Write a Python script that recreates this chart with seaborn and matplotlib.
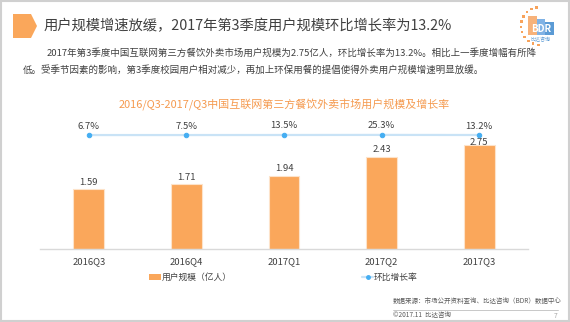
import matplotlib
matplotlib.use("Agg")
import matplotlib.pyplot as plt
import seaborn as sns
import pandas as pd
import numpy as np
from matplotlib.patches import Polygon, Rectangle, Patch
from matplotlib.lines import Line2D

# ---------------- data ----------------
quarters = ["2016Q3", "2016Q4", "2017Q1", "2017Q2", "2017Q3"]
users = [1.59, 1.71, 1.94, 2.43, 2.75]          # 用户规模（亿人）
growth = [6.7, 7.5, 13.5, 25.3, 13.2]           # 环比增长率 (%)
bar_label = "用户规模（亿人）"
line_label = "环比增长率"
main_title = "用户规模增速放缓，2017年第3季度用户规模环比增长率为13.2%"
para1 = "2017年第3季度中国互联网第三方餐饮外卖市场用户规模为2.75亿人，环比增长率为13.2%。相比上一季度增幅有所降"
para2 = "低。受季节因素的影响，第3季度校园用户相对减少，再加上环保用餐的提倡使得外卖用户规模增速明显放缓。"
chart_title = "2016/Q3-2017/Q3中国互联网第三方餐饮外卖市场用户规模及增长率"
source_text = "数据来源：市场公开资料查询、比达咨询（BDR）数据中心"
copyright_text = "©2017.11  比达咨询"
page_no = "7"

df = pd.DataFrame({"quarter": quarters, "users": users, "growth": growth})

# ---------------- style ----------------
sns.set_theme(style="white")
plt.rcParams["font.family"] = ["Noto Sans CJK SC", "DejaVu Sans"]

W, H = 570, 322
fig = plt.figure(figsize=(W / 100, H / 100), dpi=100)
fig.patch.set_facecolor("white")

def fx(px):
    return px / W

def fy(py):
    return 1 - py / H

BAR_C = "#FAA75B"
LINE_C = "#C9E3F6"
MARK_C = "#45AEF2"
TXT_C = "#404040"

# main axes: x from 40 to 528 px, baseline at 249.3 px, top at 100 px
ax = fig.add_axes([fx(40), fy(249.3), (528 - 40) / W, (249.3 - 100) / H])
sns.barplot(data=df, x="quarter", y="users", ax=ax, color=BAR_C, width=0.314,
            edgecolor="#FDE3CA", linewidth=0.8, saturation=1)
ax.set_xlim(-0.5, 4.5)
ax.set_ylim(0, 149.3 / 37.9)
ax.set_xlabel("")
ax.set_ylabel("")
ax.set_yticks([])
for s in ["top", "right", "left"]:
    ax.spines[s].set_visible(False)
ax.spines["bottom"].set_color("#D9D9D9")
ax.spines["bottom"].set_linewidth(1.0)
ax.tick_params(axis="x", length=0, pad=6, labelsize=6.8, labelcolor=TXT_C)
ax.patch.set_alpha(0)

label_gap_px = [7, 7, 7, 7.5, 3]
for i, v in enumerate(users):
    ax.annotate(f"{v:.2f}", (i, v), xytext=(0, label_gap_px[i] * 0.72), textcoords="offset points",
                ha="center", va="center", fontsize=6.8, color=TXT_C)

# secondary axis for growth line (wide range so the line appears flat)
ax2 = ax.twinx()
R = 20000.0
mid = float(np.mean(growth))
frac = (249.3 - 135) / (249.3 - 100)
lo = mid - frac * R
sns.lineplot(data=df, x="quarter", y="growth", ax=ax2, color=LINE_C, linewidth=1.6,
             marker="o", markersize=3.2, markerfacecolor=MARK_C, markeredgecolor=MARK_C,
             sort=False)
ax2.set_ylim(lo, lo + R)
ax2.set_xlim(-0.5, 4.5)
ax2.set_yticks([])
ax2.set_ylabel("")
ax2.set_xlabel("")
for s in ["top", "right", "left", "bottom"]:
    ax2.spines[s].set_visible(False)
for i, g in enumerate(growth):
    ax2.annotate(f"{g:.1f}%", (i, g), xytext=(0, 9 * 0.72), textcoords="offset points",
                 ha="center", va="center", fontsize=6.8, color=TXT_C)

# legend
handles = [Patch(facecolor=BAR_C, edgecolor="none"),
           Line2D([0], [0], color=LINE_C, lw=1.6, marker="o", markersize=2.5,
                  markerfacecolor=MARK_C, markeredgecolor=MARK_C)]
leg = fig.legend(handles, [bar_label, line_label], loc="center",
                 bbox_to_anchor=(fx(283.5), fy(277.5)), ncol=2, frameon=False,
                 fontsize=6.3, handlelength=1.3, handleheight=0.6, handletextpad=0.1,
                 columnspacing=14.9)
for t in leg.get_texts():
    t.set_color(TXT_C)

# ---------------- decorations ----------------
# frame
fig.add_artist(Rectangle((0.002, 0.003), 0.996, 0.994, transform=fig.transFigure,
                         fill=False, edgecolor="#D0D0D0", linewidth=1.5))
# pentagon icon
fig.add_artist(Polygon([(fx(13), fy(14)), (fx(31), fy(14)), (fx(37), fy(26)),
                        (fx(31), fy(38)), (fx(13), fy(38))], closed=True,
                       transform=fig.transFigure, facecolor=BAR_C, edgecolor="none"))
fig.text(fx(44), fy(26), main_title, fontsize=10.3, color=TXT_C, va="center", ha="left")
fig.text(fx(47), fy(53), para1, fontsize=6.8, color=TXT_C, va="center", ha="left")
fig.text(fx(22.5), fy(69.5), para2, fontsize=6.8, color=TXT_C, va="center", ha="left")
fig.text(fx(284.5), fy(105), chart_title, fontsize=7.9, color="#F59A4F",
         va="center", ha="center")

# source / footer
fig.text(fx(393), fy(301), source_text, fontsize=4.7, color="#595959", va="center", ha="left")
fig.add_artist(Line2D([fx(393), fx(558)], [fy(309.5), fy(309.5)], transform=fig.transFigure,
                      color="#BFBFBF", linewidth=0.6))
fig.text(fx(393), fy(315.5), copyright_text, fontsize=4.7, color="#595959", va="center", ha="left")
fig.text(fx(557), fy(315.5), page_no, fontsize=4.7, color="#A6A6A6", va="center", ha="right")

# BDR logo
cx, cy, r = 540, 26, 19
for ang in np.linspace(100, 265, 11):
    a = np.deg2rad(ang)
    fig.add_artist(Rectangle((fx(cx + r * np.cos(a) - 1.3), fy(cy - r * np.sin(a) + 1.3)),
                             2.6 / W, 2.6 / H, transform=fig.transFigure,
                             facecolor="#F7A35C", edgecolor="none"))
for (x0, x1, ytop, col) in [(528, 537, 16, "#F7B27A"), (537, 545, 19, "#7FB2E5"),
                            (545, 554, 22, "#5B9BD5")]:
    fig.add_artist(Rectangle((fx(x0), fy(35)), (x1 - x0) / W, (35 - ytop) / H,
                             transform=fig.transFigure, facecolor=col, edgecolor="none"))
fig.text(fx(541), fy(29.5), "BDR", fontsize=7, color="white", ha="center", va="center",
         fontweight="bold")
fig.text(fx(541), fy(40), "比达咨询", fontsize=3.6, color="#5B9BD5", ha="center", va="center")

fig.savefig("out.png", dpi=100, facecolor="white")
